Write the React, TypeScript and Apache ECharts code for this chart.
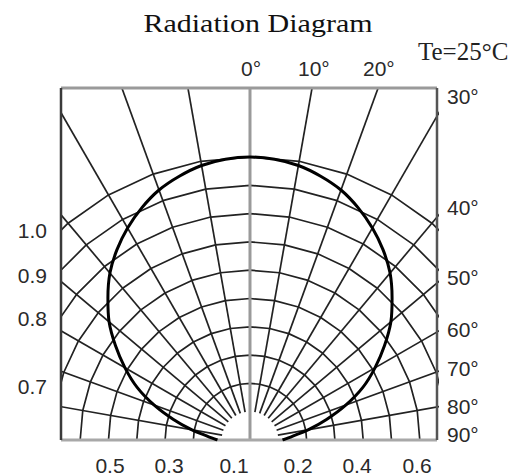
import React, { useEffect, useRef } from "react";
import * as echarts from "echarts";

// ---- data ----
const titleText = "Radiation Diagram";
const tempText = "Te=25°C";
const curveAngles = [-90, -85, -80, -75, -70, -65, -60, -55, -50, -45, -40, -35, -30, -25, -20, -15, -10, -5, 0,
  5, 10, 15, 20, 25, 30, 35, 40, 45, 50, 55, 60, 65, 70, 75, 80, 85, 90];
const curveIntensity = [0.115, 0.15, 0.21, 0.28, 0.36, 0.44, 0.51, 0.58, 0.65, 0.71, 0.77, 0.82, 0.865, 0.905, 0.94, 0.965, 0.985, 0.996, 1.0,
  0.996, 0.985, 0.965, 0.94, 0.905, 0.865, 0.82, 0.77, 0.71, 0.65, 0.58, 0.51, 0.44, 0.36, 0.28, 0.21, 0.15, 0.115];
const spokeAngles = [-80, -70, -60, -50, -40, -30, -20, -10, 10, 20, 30, 40, 50, 60, 70, 80];
const ringRadii = [0.2, 0.3, 0.4, 0.5, 0.6, 0.7, 0.8, 0.9, 1.0];
const arcAngles = [-90, -80, -70, -60, -50, -40, -30, -20, -10, 0, 10, 20, 30, 40, 50, 60, 70, 80, 90];
const leftTickLabels = ["1.0", "0.9", "0.8", "0.7"];
const bottomTickLabels = ["0.5", "0.3", "0.1", "0.2", "0.4", "0.6"];
const topAngleLabels = ["0°", "10°", "20°"];
const rightAngleLabels = ["30°", "40°", "50°", "60°", "70°", "80°", "90°"];

// ---- layout ----
const X_MIN = -0.6678;
const X_MAX = 0.6608;
const Y_MAX = 1.2438;
const SPOKE_START = 0.1;
const leftLabelY = [230, 275, 318, 386];
const bottomLabelX = [110, 169, 234, 298, 357, 417];
const topLabelX = [241, 298, 363];
const rightLabelY = [96, 207, 277, 329, 368, 406, 434];

const toXY = (deg: number, r: number) => {
  const t = (deg * Math.PI) / 180;
  return [r * Math.sin(t), r * Math.cos(t)];
};

const gridLine = (data: number[][], color: string, width: number, clip = true) => ({
  type: "line",
  data,
  symbol: "none",
  silent: true,
  clip,
  lineStyle: { color, width },
  z: 2,
});

export default function App() {
  const ref = useRef<HTMLDivElement>(null);
  useEffect(() => {
    if (!ref.current) return;
    const chart = echarts.init(ref.current, undefined, { renderer: "svg" });
    const series: any[] = [];
    spokeAngles.forEach((a) => series.push(gridLine([toXY(a, SPOKE_START), toXY(a, 2)], "#222", 1.7)));
    ringRadii.forEach((r) => series.push(gridLine(arcAngles.map((a) => toXY(a, r)), "#222", 1.7)));
    series.push(gridLine([[0, 0], [0, Y_MAX]], "#9a9a9a", 3));
    series.push(gridLine([[X_MIN, Y_MAX], [X_MAX, Y_MAX]], "#9a9a9a", 3, false));
    series.push(gridLine([[X_MIN, 0], [X_MAX, 0]], "#a8a8a8", 3, false));
    series.push(gridLine([[X_MIN, 0], [X_MIN, Y_MAX]], "#3a3a3a", 2.5, false));
    series.push(gridLine([[X_MAX, 0], [X_MAX, Y_MAX]], "#555", 2.5, false));
    series.push({
      type: "line",
      data: curveAngles.map((a, i) => toXY(a, curveIntensity[i])),
      symbol: "none",
      smooth: 0.3,
      silent: true,
      lineStyle: { color: "#000", width: 3 },
      z: 5,
    });

    const sans = "21px 'Liberation Sans', Arial, sans-serif";
    const labelColor = "#2a2a2a";
    const serif = "25px 'Liberation Serif', 'Times New Roman', serif";
    const graphic: any[] = [
      {
        type: "text",
        x: 258,
        y: 23,
        scaleX: 1.2,
        style: { text: titleText, font: serif, fill: "#111", textAlign: "center", textVerticalAlign: "middle" },
      },
      {
        type: "text",
        x: 418,
        y: 51,
        style: { text: tempText, font: serif, fill: "#222", textAlign: "left", textVerticalAlign: "middle" },
      },
    ];
    leftTickLabels.forEach((t, i) =>
      graphic.push({ type: "text", x: 47, y: leftLabelY[i], style: { text: t, font: sans, fill: labelColor, textAlign: "right", textVerticalAlign: "middle" } })
    );
    bottomTickLabels.forEach((t, i) =>
      graphic.push({ type: "text", x: bottomLabelX[i], y: 465, style: { text: t, font: sans, fill: labelColor, textAlign: "center", textVerticalAlign: "middle" } })
    );
    topAngleLabels.forEach((t, i) =>
      graphic.push({ type: "text", x: topLabelX[i], y: 68, style: { text: t, font: sans, fill: labelColor, textAlign: "left", textVerticalAlign: "middle" } })
    );
    rightAngleLabels.forEach((t, i) =>
      graphic.push({ type: "text", x: 447, y: rightLabelY[i], style: { text: t, font: sans, fill: labelColor, textAlign: "left", textVerticalAlign: "middle" } })
    );

    chart.setOption({
      animation: false,
      backgroundColor: "#fff",
      grid: { left: 61, top: 88, width: 376, height: 352, show: false },
      xAxis: { type: "value", min: X_MIN, max: X_MAX, show: false },
      yAxis: { type: "value", min: 0, max: Y_MAX, show: false },
      series,
      graphic,
    });
    return () => chart.dispose();
  }, []);
  return <div ref={ref} style={{ position: "fixed", left: 0, top: 0, width: 512, height: 476 }} />;
}
